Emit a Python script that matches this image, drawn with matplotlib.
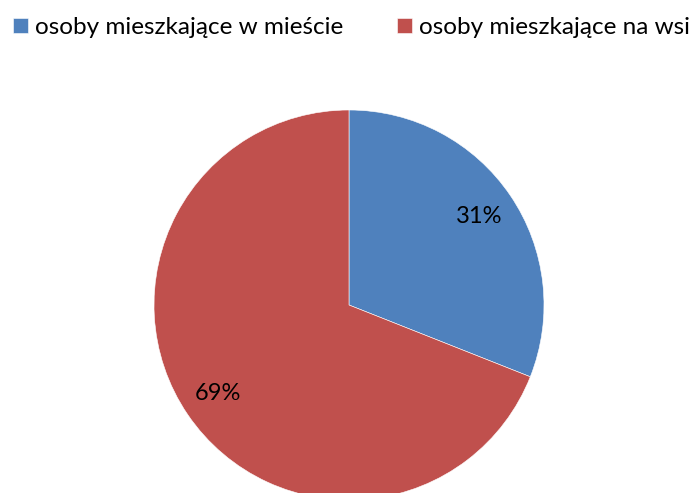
import matplotlib
matplotlib.use('Agg')
import matplotlib.pyplot as plt

labels = ['osoby mieszkające w mieście', 'osoby mieszkające na wsi']
values = [31, 69]
colors = ['#4F81BD', '#C0504D']

plt.rcParams['font.family'] = ['Lato', 'DejaVu Sans']

fig = plt.figure(figsize=(6.99, 4.93), dpi=100)
ax = fig.add_axes([0, 0, 1, 1])

wedges, texts, autotexts = ax.pie(values, colors=colors, startangle=90, counterclock=False,
                                  center=(349, 188), radius=195, autopct='%d%%', pctdistance=0.81,
                                  wedgeprops=dict(edgecolor='white', linewidth=0.4),
                                  textprops=dict(fontsize=17, color='black'), frame=True)
ax.axis('off')
ax.set_xlim(0, 699)
ax.set_ylim(0, 493)
ax.set_aspect('equal')

fig.legend(wedges, labels, ncol=2, loc='upper left', bbox_to_anchor=(13 / 699, 1 - 17 / 493),
           frameon=False, fontsize=17.5, handlelength=0.62, handleheight=0.62,
           handletextpad=0.3, columnspacing=2.2, borderaxespad=0, borderpad=0)

fig.savefig('out.png', dpi=100)
